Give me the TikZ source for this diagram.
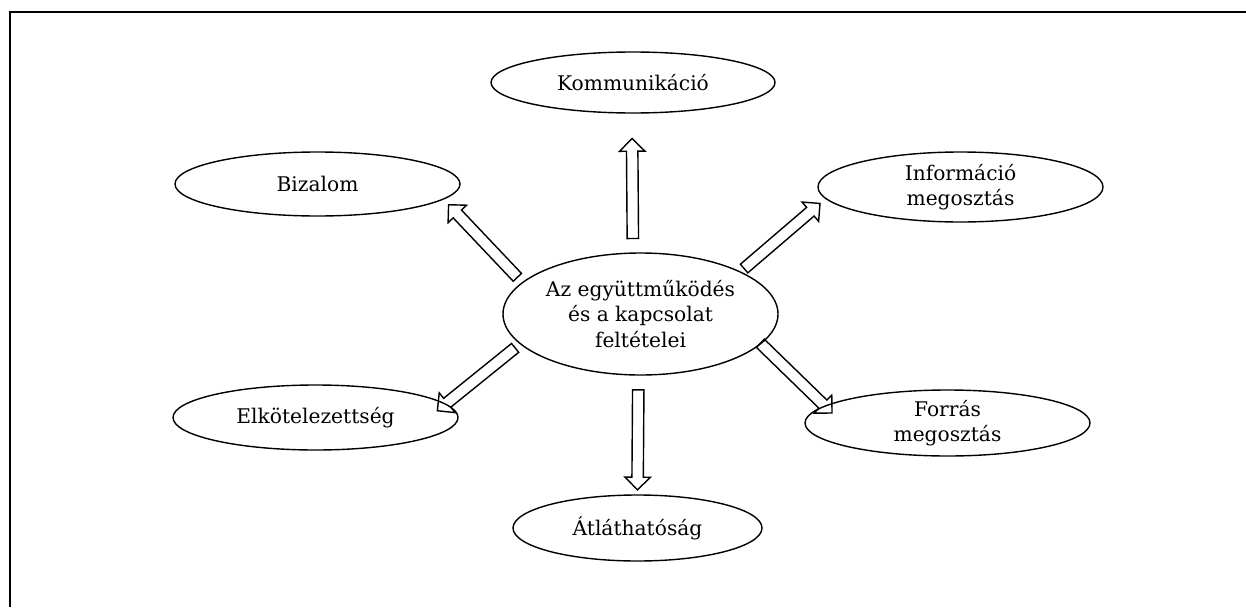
\documentclass[tikz,border=0pt]{standalone}
\usepackage{fontspec}
\setmainfont{DejaVu Serif}
\usetikzlibrary{shapes.geometric, shapes.arrows}

\begin{document}
\begin{tikzpicture}[
    topic/.style={ellipse, draw, line width=0.8pt, inner sep=0pt, minimum width=5.7cm, minimum height=1.3cm, align=center, font=\fontsize{11.5}{14.6}\selectfont},
    core/.style={topic, minimum width=5.5cm, minimum height=2.44cm},
    blk/.style={single arrow, draw, line width=0.8pt, inner xsep=0pt, inner ysep=0.1cm, minimum width=0pt, minimum height=2cm, single arrow head extend=0.14cm, sloped, allow upside down}
]
\useasboundingbox (0,0) rectangle (24.92,12.14);
% Frame
\draw[line width=1.1pt] (0.2,0) |- (24.92,11.9);

% Ellipses
\node[core] (core) at (12.81, 5.86) {Az együttműködés\\és a kapcsolat\\feltételei};
\node[topic, minimum width=5.68cm, minimum height=1.22cm] (komm) at (12.66, 10.49) {Kommunikáció};
\node[topic, minimum height=1.28cm] (biz) at (6.35, 8.46) {Bizalom};
\node[topic, minimum height=1.4cm] (info) at (19.21, 8.40) {Információ\\megosztás};
\node[topic] (elk) at (6.31, 3.79) {Elkötelezettség};
\node[topic, minimum height=1.32cm] (forr) at (18.95, 3.68) {Forrás\\megosztás};
\node[topic, minimum width=4.98cm, minimum height=1.32cm] (atl) at (12.75, 1.58) {Átláthatóság};

% Arrows
\path (core.97.9) -- node[blk, pos=0.44] {} (komm.-92);
\path (core.-92.8) -- node[blk, pos=0.517] {} (atl.90);
\path (core.165.3) -- node[blk, pos=0.473] {} (biz.-7.7);
\path (core.23.9) -- node[blk, pos=0.463] {} (info.185.5);
\path (core.194.6) -- node[blk, pos=0.56] {} (elk.6.3);
\path (core.-14.9) -- node[blk, pos=0.52] {} (forr.172.7);

\end{tikzpicture}
\end{document}
